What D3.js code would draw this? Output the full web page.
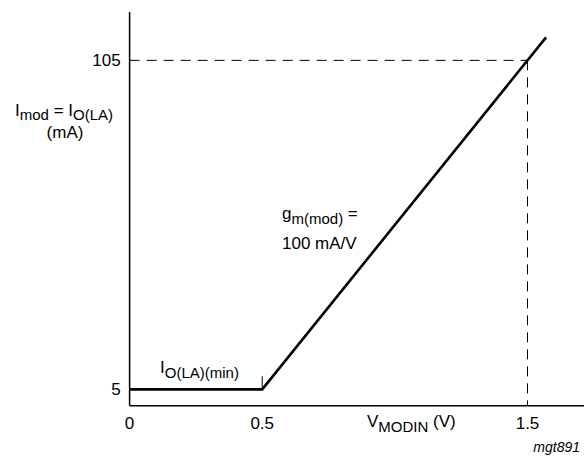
<!DOCTYPE html>
<html><head><meta charset="utf-8">
<script src="https://cdn.jsdelivr.net/npm/d3@7"></script>
<style>body{margin:0;background:#fff}svg{display:block}text{font-family:"Liberation Sans",Arial,sans-serif;fill:#000}</style>
</head><body>
<svg id="c" width="587" height="464"></svg>
<script>
const curveV = [0, 0.5, 1.57];          // V_MODIN (V)
const curveI = [5, 5, 112];             // I_mod (mA)
const xTickVals = [0, 0.5, 1.5];
const xTickLabels = ["0", "0.5", "1.5"];
const yTickVals = [5, 105];
const yTickLabels = ["5", "105"];
const refV = 1.5, refI = 105;           // dashed guide point

const FS = 17, SUB = 15;
const svg = d3.select("#c");
const x = d3.scaleLinear().domain([0, 1.713]).range([129.6, 584]);
const y = d3.scaleLinear().domain([0, 119.7]).range([405.8, 12]);

// axes
svg.append("line").attr("x1", x(0)).attr("x2", x(0)).attr("y1", y(0)).attr("y2", y(119.7)).attr("stroke", "#000").attr("stroke-width", 1.5);
svg.append("line").attr("x1", x(0)).attr("x2", x(1.713)).attr("y1", y(0)).attr("y2", y(0)).attr("stroke", "#000").attr("stroke-width", 1.5);

// dashed guides
svg.append("line").attr("x1", x(0)).attr("x2", x(refV)).attr("y1", y(refI)).attr("y2", y(refI))
  .attr("stroke", "#000").attr("stroke-width", 1).attr("stroke-dasharray", "10,7");
svg.append("line").attr("x1", x(refV)).attr("x2", x(refV)).attr("y1", y(refI)).attr("y2", y(0))
  .attr("stroke", "#000").attr("stroke-width", 1).attr("stroke-dasharray", "10,7");

// tick at knee
svg.append("line").attr("x1", x(0.5)).attr("x2", x(0.5)).attr("y1", y(5)).attr("y2", y(5) - 13)
  .attr("stroke", "#000").attr("stroke-width", 1);

// curve
const pts = curveV.map((v, i) => [v, curveI[i]]);
svg.append("path").datum(pts)
  .attr("d", d3.line().x(d => x(d[0])).y(d => y(d[1])))
  .attr("fill", "none").attr("stroke", "#000").attr("stroke-width", 2.6);

// tick labels
xTickVals.forEach((v, i) => {
  svg.append("text").attr("x", x(v)).attr("y", y(0) + 23).attr("text-anchor", "middle")
    .attr("font-size", FS).text(xTickLabels[i]);
});
yTickVals.forEach((v, i) => {
  svg.append("text").attr("x", x(0) - 9).attr("y", y(v) + 6).attr("text-anchor", "end")
    .attr("font-size", FS).text(yTickLabels[i]);
});

function rich(tx, ty, parts, anchor, shift) {
  const d = shift || 5;
  const t = svg.append("text").attr("x", tx).attr("y", ty).attr("font-size", FS)
    .attr("text-anchor", anchor || "start");
  parts.forEach(p => {
    const s = t.append("tspan").text(p[0]);
    if (p[1]) s.attr("font-size", SUB).attr("dy", d);
    else if (p[2]) s.attr("dy", -d);
  });
  return t;
}
// y label
rich(15, 116, [["I"], ["mod", 1], [" = I", 0, 1], ["O(LA)", 1]], "start", 4);
svg.append("text").attr("x", 65).attr("y", 138).attr("text-anchor", "middle").attr("font-size", FS).text("(mA)");

// x label
rich(367, 427, [["V"], ["MODIN", 1], [" (V)", 0, 1]]);

// annotations
rich(282, 219, [["g"], ["m(mod)", 1], [" =", 0, 1]]);
svg.append("text").attr("x", 282).attr("y", 249).attr("font-size", FS).text("100 mA/V");
rich(160, 373, [["I"], ["O(LA)(min)", 1]]);

svg.append("text").attr("x", 580).attr("y", 452).attr("text-anchor", "end")
  .attr("font-size", 14).attr("font-style", "italic").text("mgt891");
</script>
</body></html>
